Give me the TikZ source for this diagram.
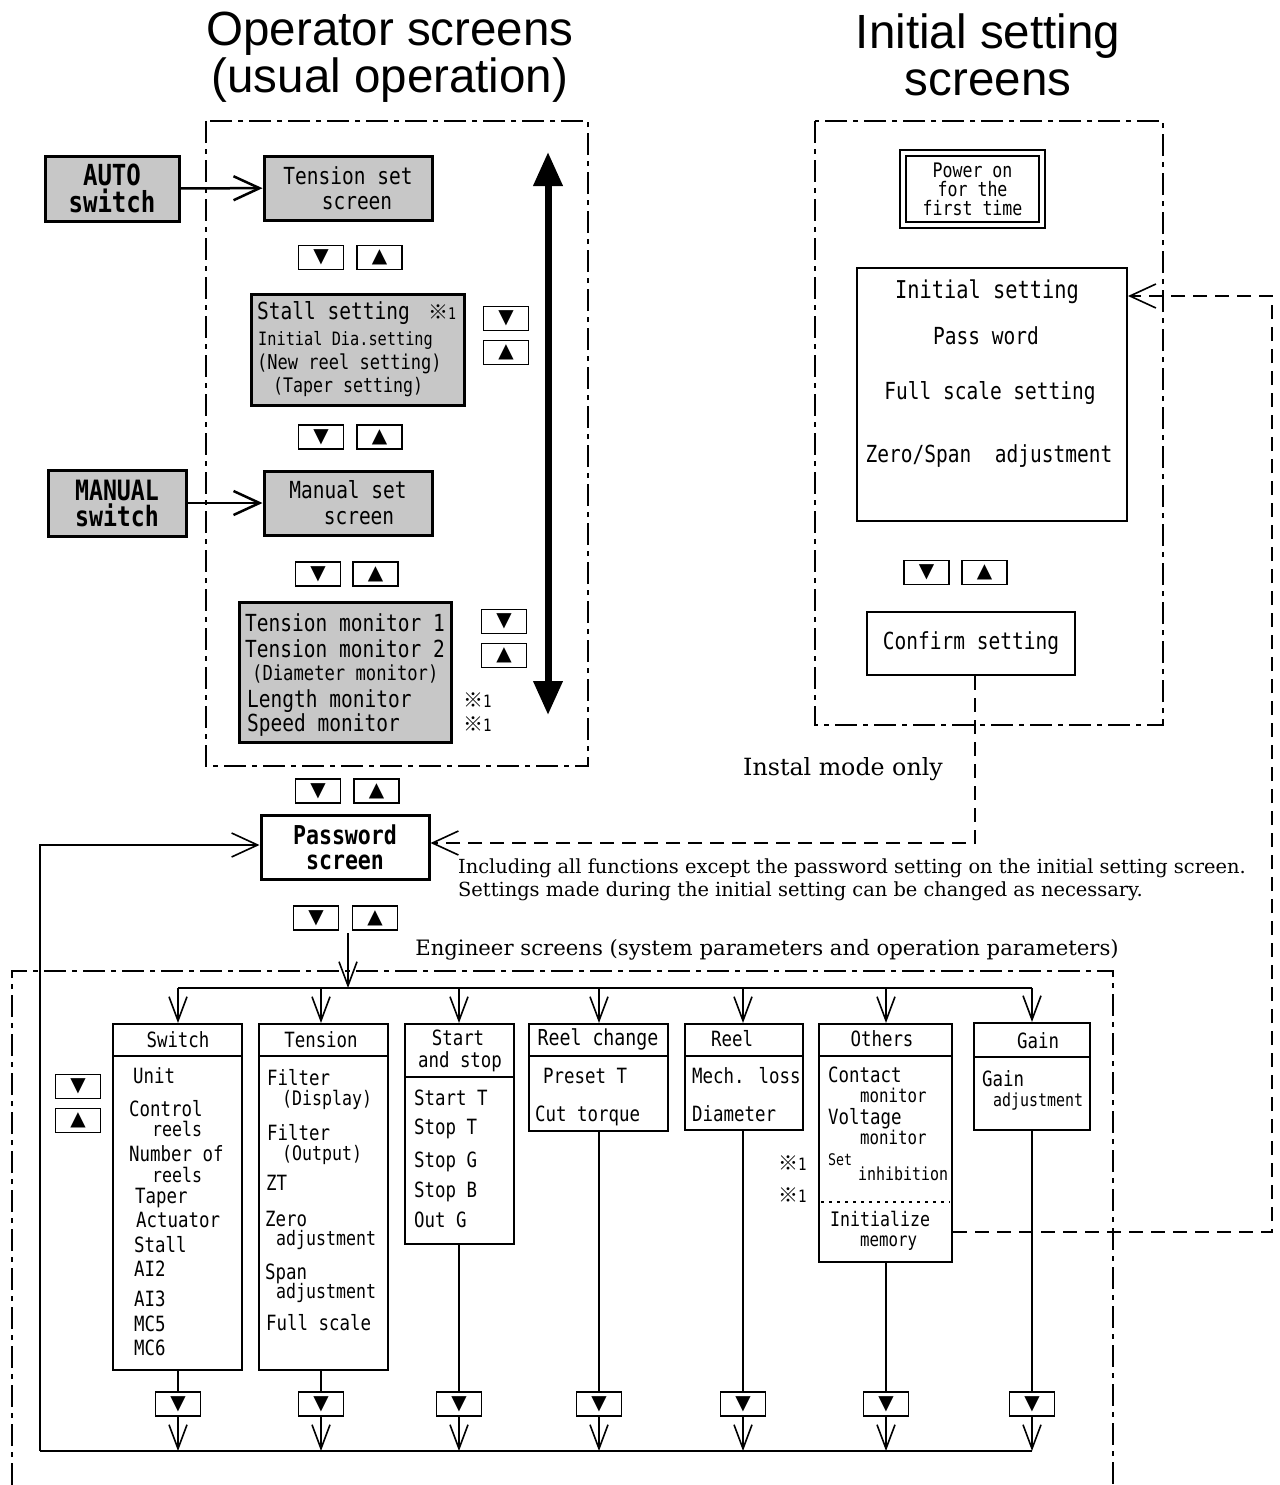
\documentclass[tikz,border=0pt]{standalone}
\usepackage{fontspec}
\usetikzlibrary{arrows.meta}
\newfontfamily\gth[FakeStretch=0.83]{DejaVu Sans Mono}
\newfontfamily\ttlf[FakeStretch=0.99]{Liberation Sans}
\newfontfamily\symf{DejaVu Sans}
\newfontfamily\serf{DejaVu Serif}
\newfontfamily\cjkf{Noto Sans CJK JP}
\newcommand\fsz[1]{\fontsize{#1}{#1}\selectfont}
\newcommand\kome[2]{{\cjkf\fsz{#1}※}{\gth\fsz{#2}1}}
\tikzset{
 vtip/.tip={Straight Barb[length=24pt,width=18pt]},
 htip/.tip={Straight Barb[length=26pt,width=24pt]},
 gbox/.style={draw,line width=3pt,fill=black!22,inner sep=0pt},
 wbox/.style={draw,line width=2pt,fill=white,inner sep=0pt},
 btn/.style={draw,line width=1.6pt,fill=white,minimum width=45pt,minimum height=24pt,inner sep=0pt,font=\symf\fsz{20}},
 dashframe/.style={line width=1.6pt,dash pattern=on 22pt off 6pt on 5pt off 6pt},
 dsh/.style={line width=1.6pt,dash pattern=on 14pt off 8pt},
 conn/.style={line width=1.6pt},
 gt/.style={font=\gth\fsz{23.5},anchor=mid west,inner sep=0pt,yshift=-5pt},
 et/.style={font=\gth\fsz{21},anchor=mid west,inner sep=0pt,yshift=-5pt},
 ct/.style={font=\gth\fsz{21},inner sep=0pt},
 notetxt/.style={font=\serf\fsz{19.4},anchor=mid west,inner sep=0pt,yshift=-4pt},
 ttl/.style={font=\ttlf\fsz{48},anchor=base,inner sep=0pt},
}
\begin{document}
\begin{tikzpicture}[x=1pt,y=-1pt]
\fill[white] (0,0) rectangle (1279,1485);
\useasboundingbox (0,0) rectangle (1279,1485);
% titles
\node[ttl] (t1) at (390,46) {Operator screens};
\node[ttl] (t2) at (390,93) {(usual operation)};
\node[ttl] (t3) at (988,49) {Initial setting};
\node[ttl] (t4) at (988,96) {screens};
% frames
\draw[dashframe] (206,121) rectangle (588,766);
\draw[dashframe] (815,121) rectangle (1163,725);
\draw[dashframe] (12,1485) -- (12,971) -- (1113,971) -- (1113,1485);
% operator screens
\node[gbox,minimum width=134pt,minimum height=65pt,font=\gth\bfseries\fontsize{29}{27}\selectfont,align=center] (auto) at (112,188.5) {AUTO\\switch};
\node[gbox,minimum width=168pt,minimum height=64pt,font=\gth\fontsize{23.5}{25}\selectfont,align=center] (tset) at (348,188) {Tension set\\\hspace*{18pt}screen};
\node[gbox,minimum width=213pt,minimum height=111pt] (stall) at (357.5,349.5) {};
\node[gt] (st1) at (257,312) {Stall setting};
\node[anchor=mid west,inner sep=0pt,yshift=-5pt] (st1k) at (428,312) {\kome{20}{16}};
\node[gt,font=\gth\fsz{18.4}] (st2) at (258,338) {Initial Dia.setting};
\node[gt,font=\gth\fsz{20.5}] (st3) at (257,362) {(New reel setting)};
\node[gt,font=\gth\fsz{20}] (st4) at (273,385) {(Taper setting)};
\node[gbox,minimum width=138pt,minimum height=66pt,font=\gth\bfseries\fontsize{28}{26}\selectfont,align=center] (manual) at (117,503) {MANUAL\\switch};
\node[gbox,minimum width=168pt,minimum height=64pt,font=\gth\fontsize{23.5}{26}\selectfont,align=center] (mset) at (348,503) {Manual set\\\hspace*{22pt}screen};
\node[gbox,minimum width=212pt,minimum height=140pt] (mon) at (345,672) {};
\node[gt] (m1) at (245,624) {Tension monitor 1};
\node[gt] (m2) at (245,650) {Tension monitor 2};
\node[gt,font=\gth\fsz{20.7}] (m3) at (252,673) {(Diameter monitor)};
\node[gt] (m4) at (247,700) {Length monitor};
\node[gt] (m5) at (247,724) {Speed monitor};
\node[anchor=mid west,inner sep=0pt,yshift=-5pt] (mk1) at (463,700) {\kome{20}{17}};
\node[anchor=mid west,inner sep=0pt,yshift=-5pt] (mk2) at (463,724) {\kome{20}{17}};
% buttons operator
\node[btn] (b1d) at (321,257.5) {▼};
\node[btn] (b1u) at (379.5,257.5) {▲};
\node[btn] (b2d) at (506,318.5) {▼};
\node[btn] (b2u) at (506,352.5) {▲};
\node[btn] (b3d) at (321,437) {▼};
\node[btn] (b3u) at (379.5,437) {▲};
\node[btn] (b4d) at (318,574) {▼};
\node[btn] (b4u) at (375.5,574) {▲};
\node[btn] (b5d) at (504,621.5) {▼};
\node[btn] (b5u) at (504,655.5) {▲};
\node[btn] (b6d) at (318,791) {▼};
\node[btn] (b6u) at (376.5,791) {▲};
\node[btn] (b7d) at (316,918) {▼};
\node[btn] (b7u) at (375,918) {▲};
% arrows operator
\draw[line width=2.5pt,-{htip}] (auto) -- (tset);
\draw[line width=2.5pt,-{htip}] (manual) -- (mset);
\coordinate (da1) at (548,152);
\coordinate (da2) at (548,715);
\draw[line width=7pt,{Triangle[length=34pt,width=28pt]}-{Triangle[length=34pt,width=28pt]}] (da1) -- (da2);
% password
\node[draw,line width=3pt,fill=white,minimum width=168pt,minimum height=64pt,inner sep=0pt,font=\gth\bfseries\fontsize{26}{25}\selectfont,align=center] (pw) at (345,847) {Password\\screen};
% initial setting
\node[draw,double,double distance=4pt,line width=2pt,minimum width=139pt,minimum height=72pt,inner sep=0pt,font=\gth\fontsize{20}{19}\selectfont,align=center] (pon) at (972.5,189) {Power on\\for the\\first time};
\node[wbox,minimum width=270pt,minimum height=253pt] (init) at (992,394.5) {};
\node[ct,font=\gth\fsz{24.5}] (i1) at (987,292) {Initial setting};
\node[ct,font=\gth\fsz{23.5}] (i2) at (986,336) {Pass word};
\node[ct,font=\gth\fsz{23.5}] (i3) at (990,393) {Full scale setting};
\node[ct,font=\gth\fsz{23.5}] (i4) at (989,456) {Zero/Span\ \ adjustment};
\node[btn] (ibd) at (926.5,572.5) {▼};
\node[btn] (ibu) at (984.5,572.5) {▲};
\node[wbox,minimum width=208pt,minimum height=63pt,font=\gth\fsz{23.5}] (conf) at (971,643.5) {Confirm setting};
\coordinate (c1) at (975,843);
\draw[dsh,-{htip}] (c1 |- conf.south) -- (c1) -- (pw.east |- c1);
% notes
\node[notetxt,anchor=center,font=\serf\fsz{23.7}] (inst) at (843,765) {Instal mode only};
\node[notetxt] (n1) at (458,867) {Including all functions except the password setting on the initial setting screen.};
\node[notetxt] (n2) at (458,890) {Settings made during the initial setting can be changed as necessary.};
\node[notetxt,anchor=center,font=\serf\fsz{21.2},yshift=0pt] (eng) at (767,946) {Engineer screens (system parameters and operation parameters)};
% engineer boxes
\node[wbox,minimum width=129pt,minimum height=346pt] (sw) at (177.5,1197) {};
\node[wbox,minimum width=129pt,minimum height=346pt] (ten) at (323.5,1197) {};
\node[wbox,minimum width=109pt,minimum height=220pt] (ss) at (459.5,1134) {};
\node[wbox,minimum width=139pt,minimum height=107pt] (rc) at (598.5,1077.5) {};
\node[wbox,minimum width=118pt,minimum height=106pt] (reel) at (744,1077) {};
\node[wbox,minimum width=133pt,minimum height=238pt] (oth) at (885.5,1143) {};
\node[wbox,minimum width=116pt,minimum height=107pt] (gain) at (1032,1076.5) {};
\draw[line width=2pt] (113,1056) -- (242,1056);
\draw[line width=2pt] (259,1056) -- (388,1056);
\draw[line width=2pt] (405,1077) -- (514,1077);
\draw[line width=2pt] (529,1056) -- (668,1056);
\draw[line width=2pt] (685,1056) -- (803,1056);
\draw[line width=2pt] (819,1056) -- (952,1056);
\draw[line width=2pt] (974,1057) -- (1090,1057);
\draw[line width=1.5pt,dash pattern=on 3pt off 5pt] (821,1202) -- (950,1202);
% headers
\node[ct] (h1) at (178,1040) {Switch};
\node[ct] (h2) at (321,1040) {Tension};
\node[ct] (h3a) at (458,1038) {Start};
\node[ct] (h3b) at (460,1062) {and stop};
\node[ct,font=\gth\fsz{22}] (h4) at (598,1039) {Reel change};
\node[ct] (h5) at (732,1039) {Reel};
\node[ct] (h6) at (882,1039) {Others};
\node[ct] (h7) at (1038,1041) {Gain};
% switch items
\node[et] (s1) at (133,1076) {Unit};
\node[et] (s2) at (129,1109) {Control};
\node[et,font=\gth\fsz{20}] (s3) at (152,1129) {reels};
\node[et] (s4) at (129,1154) {Number of};
\node[et,font=\gth\fsz{20}] (s5) at (152,1175) {reels};
\node[et] (s6) at (135,1196) {Taper};
\node[et] (s7) at (136,1220) {Actuator};
\node[et] (s8) at (134,1245) {Stall};
\node[et] (s9) at (134,1269) {AI2};
\node[et] (s10) at (134,1299) {AI3};
\node[et] (s11) at (134,1324) {MC5};
\node[et] (s12) at (134,1348) {MC6};
% tension items
\node[et] (e1) at (267,1078) {Filter};
\node[et,font=\gth\fsz{20}] (e2) at (282,1098) {(Display)};
\node[et] (e3) at (267,1133) {Filter};
\node[et,font=\gth\fsz{20}] (e4) at (282,1153) {(Output)};
\node[et] (e5) at (266,1183) {ZT};
\node[et] (e6) at (265,1219) {Zero};
\node[et,font=\gth\fsz{20}] (e7) at (276,1238) {adjustment};
\node[et] (e8) at (265,1272) {Span};
\node[et,font=\gth\fsz{20}] (e9) at (276,1291) {adjustment};
\node[et] (e10) at (266,1323) {Full scale};
% start and stop items
\node[et] (a1) at (414,1098) {Start T};
\node[et] (a2) at (414,1127) {Stop T};
\node[et] (a3) at (414,1160) {Stop G};
\node[et] (a4) at (414,1190) {Stop B};
\node[et] (a5) at (414,1220) {Out G};
% reel change, reel
\node[et] (r1t) at (543,1076) {Preset T};
\node[et] (r2t) at (535,1114) {Cut torque};
\node[et] (r3t) at (692,1076) {Mech. loss};
\node[et] (r4t) at (692,1114) {Diameter};
\node[anchor=mid west,inner sep=0pt,yshift=-5pt] (rk1) at (778,1163) {\kome{20}{17}};
\node[anchor=mid west,inner sep=0pt,yshift=-5pt] (rk2) at (778,1195) {\kome{20}{17}};
% others
\node[et] (o1) at (828,1075) {Contact};
\node[et,font=\gth\fsz{19}] (o2) at (860,1095) {monitor};
\node[et] (o3) at (828,1117) {Voltage};
\node[et,font=\gth\fsz{19}] (o4) at (860,1137) {monitor};
\node[et,font=\gth\fsz{16}] (o5) at (828,1158) {Set};
\node[et,font=\gth\fsz{18}] (o6) at (858,1173) {inhibition};
\node[et,font=\gth\fsz{20}] (o7) at (830,1219) {Initialize};
\node[et,font=\gth\fsz{19}] (o8) at (860,1239) {memory};
% gain
\node[et] (g1) at (982,1079) {Gain};
\node[et,font=\gth\fsz{18}] (g2) at (993,1099) {adjustment};
% left buttons
\node[btn] (ebd) at (78,1086.5) {▼};
\node[btn] (ebu) at (78,1120.5) {▲};
% connectors engineer
\coordinate (ps) at (348,933);
\coordinate (pj) at (348,988);
\draw[conn,-{vtip}] (ps) -- (pj);
\coordinate (j1) at (178,988);
\coordinate (j2) at (321,988);
\coordinate (j3) at (459,988);
\coordinate (j4) at (599,988);
\coordinate (j5) at (743,988);
\coordinate (j6) at (886,988);
\coordinate (j7) at (1032,988);
\draw[conn] (j1) -- (j7);
\foreach \j/\b in {j1/sw,j2/ten,j3/ss,j4/rc,j5/reel,j6/oth,j7/gain}
  \draw[conn,-{vtip}] (\j) -- (\j |- \b.north);
\coordinate (l1) at (40,1451);
\coordinate (bl) at (1032,1451);
\coordinate (l2) at (40,845);
\foreach \n/\x/\b in {1/178/sw,2/321/ten,3/459/ss,4/599/rc,5/743/reel,6/886/oth,7/1032/gain}{
  \node[btn] (bb\n) at (\x,1404) {▼};
  \draw[conn] (bb\n |- \b.south) -- (bb\n.north);
  \draw[conn,-{vtip}] (bb\n.south) -- (bb\n |- bl);
}
\draw[line width=2.5pt] (l1) -- (bl);
\draw[conn,-{htip}] (l1) -- (l2) -- (pw.west |- l2);
\coordinate (q1) at (1272,1232);
\coordinate (q2) at (1272,296);
\draw[dsh,-{htip}] (oth.east |- q1) -- (q1) -- (q2) -- (init.east |- q2);
\end{tikzpicture}
\end{document}
